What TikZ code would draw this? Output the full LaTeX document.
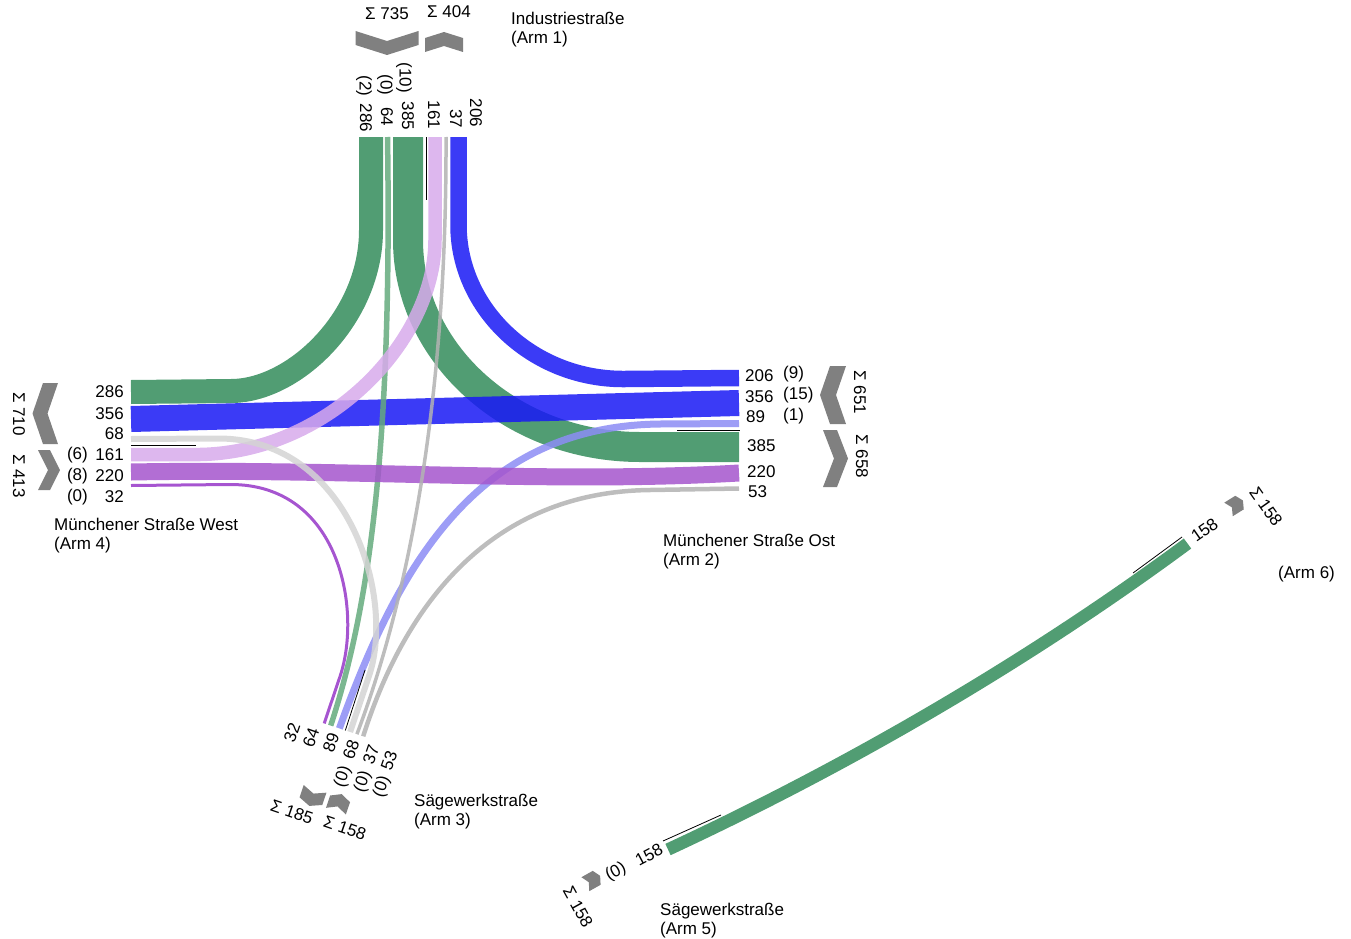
\documentclass[tikz,border=0pt]{standalone}
\usepackage{fontspec}
\setmainfont{Liberation Sans}
\definecolor{bgreen}{RGB}{50,140,90}
\definecolor{bgreenl}{RGB}{100,170,125}
\definecolor{bblue}{RGB}{25,25,245}
\definecolor{bbluel}{RGB}{140,140,245}
\definecolor{bpurple}{RGB}{165,85,205}
\definecolor{bpurpled}{RGB}{150,55,200}
\definecolor{bpurplel}{RGB}{215,170,235}
\definecolor{bgrayl}{RGB}{212,212,212}
\definecolor{bgray}{RGB}{178,178,178}
\definecolor{chevgray}{RGB}{128,128,128}
\newcommand{\chevshape}[6]{%
  \fill[chevgray,shift={(#1,#2)},rotate=#3]
   ({-(#4)/2},{-(#5)/2}) -- (0,{-(#5)/2+(#6)}) -- ({(#4)/2},{-(#5)/2}) --
   ({(#4)/2},{(#5)/2}) -- (0,{(#5)/2+(#6)}) -- ({-(#4)/2},{(#5)/2}) -- cycle;}
\begin{document}
\begin{tikzpicture}[x=1pt,y=-1pt,
  bnd/.style n args={2}{draw=#1, line width=#2, line cap=butt, opacity=0.85},
  lab/.style={font=\fontsize{17}{19}\selectfont, inner sep=0pt, text=black},
  armname/.style={font=\fontsize{17}{19}\selectfont, inner sep=0pt, align=left, anchor=north west},
  blk/.style={draw=black, line width=0.8pt}]
\useasboundingbox (0,0) rectangle (1351,939);
% ---------- band end points ----------
\coordinate (a1g286) at (371,137);
\coordinate (a1g64)  at (387.5,137);
\coordinate (a1g385) at (408,137);
\coordinate (a1p161) at (435,137);
\coordinate (a1s37)  at (446,137);
\coordinate (a1b206) at (458.5,137);
\coordinate (a4g286) at (131,392);
\coordinate (a4b356) at (131,419);
\coordinate (a4s68)  at (131,439);
\coordinate (a4p161) at (131,454.5);
\coordinate (a4p220) at (131,472);
\coordinate (a4p32)  at (131,485.5);
\coordinate (a2b206) at (739,378);
\coordinate (a2b356) at (739,403);
\coordinate (a2b89)  at (739,423.5);
\coordinate (a2g385) at (739,447);
\coordinate (a2p220) at (739,473);
\coordinate (a2s53)  at (739,488.5);
\coordinate (a3p32)  at (324.2,723.4);
\coordinate (a3g64)  at (330.7,725.6);
\coordinate (a3b89)  at (339.4,728.4);
\coordinate (a3s68)  at (350.1,732.0);
\coordinate (a3s37)  at (356.9,734.2);
\coordinate (a3s53)  at (363.2,736.3);
\coordinate (a5) at (668,849.5);
\coordinate (a6) at (1187.5,543.5);
% ---------- bands ----------
\draw[bnd={bgreen}{30}] (a1g385) -- (408,240) .. controls (408,354) and (512,447) .. (640,447) -- (a2g385);
\draw[bnd={bgreen}{24}] (a1g286) -- (371,230) .. controls (371,318) and (294,391) .. (231,391) -- (a4g286);
\draw[bnd={bblue}{26}] (a4b356) -- (a2b356);
\draw[bnd={bblue}{16.5}] (a1b206) -- (458.5,225) .. controls (458.5,310) and (534,380) .. (625,379) -- (a2b206);
\draw[bnd={bgreenl}{5.5}] (a1g64) .. controls (392,430) and (372,600) .. (a3g64);
\draw[bnd={bbluel}{7}] (a2b89) -- (660,424) .. controls (480,426) and (400,560) .. (a3b89);
\draw[bnd={bpurple}{17}] (a4p220) .. controls (350,468) and (550,484) .. (a2p220);
\draw[bnd={bpurplel}{13.5}] (a4p161) -- (200,454.5) .. controls (330,452) and (435,340) .. (435,240) -- (a1p161);
\draw[bnd={bpurpled}{3}] (a4p32) -- (230,484.5) .. controls (340,484) and (362,610) .. (340.2,675.9) -- (a3p32);
\draw[bnd={bgrayl}{6}] (a4s68) -- (220,438.5) .. controls (350,440) and (395,598) .. (369.3,675) -- (a3s68);
\draw[bnd={bgray}{3.5}] (a1s37) .. controls (447,430) and (400,620) .. (a3s37);
\draw[bnd={bgray}{4.5}] (a2s53) -- (650,490) .. controls (480,492) and (400,620) .. (a3s53);
\draw[bnd={bgreen}{12.5}] (a5) .. controls (850,765) and (1030,660) .. (a6);
% ---------- thin black markers ----------
\coordinate (k1a) at (426,137); \coordinate (k1b) at (426,200);
\coordinate (k4a) at (131,445); \coordinate (k4b) at (196,445);
\coordinate (k2a) at (677,430.5); \coordinate (k2b) at (740,430.5);
\coordinate (k3a) at (345.3,730.5); \coordinate (k3b) at (365,670);
\coordinate (k5a) at (663,841); \coordinate (k5b) at (721,815);
\coordinate (k6a) at (1133,573); \coordinate (k6b) at (1182,537);
\draw[blk] (k1a) -- (k1b);
\draw[blk] (k4a) -- (k4b);
\draw[blk] (k2a) -- (k2b);
\draw[blk] (k3a) -- (k3b);
\draw[blk] (k5a) -- (k5b);
\draw[blk] (k6a) -- (k6b);
% ---------- chevrons ----------
\chevshape{387}{38}{0}{63}{14}{10}
\chevshape{444}{45}{0}{38}{14}{-6}
\chevshape{838}{395}{-90}{58}{16}{10}
\chevshape{830}{458.5}{-90}{57}{14}{-11}
\chevshape{50.5}{413.5}{90}{61}{15}{-10.5}
\chevshape{44}{470}{90}{40}{12}{10}
\chevshape{313}{795}{161.4}{24}{13}{-5}
\chevshape{338}{805}{161.4}{21}{13}{5}
\chevshape{591}{881}{119.4}{16}{13}{4}
\chevshape{1234}{506}{-58}{16}{13}{-4}
% ---------- arm 1 labels ----------
\node[lab,rotate=-90] (t286) at (366,118) {286};
\node[lab,rotate=-90] (t64)  at (387,117) {64};
\node[lab,rotate=-90] (t385) at (408,116) {385};
\node[lab,rotate=-90] (t161) at (434,115) {161};
\node[lab,rotate=-90] (t37)  at (456,119) {37};
\node[lab,rotate=-90] (t206) at (476,113) {206};
\node[lab,rotate=-90] (th2)  at (364,86) {(2)};
\node[lab,rotate=-90] (th0)  at (385,85) {(0)};
\node[lab,rotate=-90] (th10) at (404,78) {(10)};
\node[lab] (s735) at (387,14) {Σ 735};
\node[lab] (s404) at (449,11.5) {Σ 404};
\node[armname] (n1) at (511,12) {Industriestraße\\(Arm 1)};
% ---------- arm 2 labels ----------
\node[lab,anchor=west] (r206) at (745,375.5) {206};
\node[lab,anchor=west] (r356) at (745,396.5) {356};
\node[lab,anchor=west] (r89)  at (746,416.5) {89};
\node[lab,anchor=west] (r385) at (747,446) {385};
\node[lab,anchor=west] (r220) at (747,471.5) {220};
\node[lab,anchor=west] (r53)  at (748,491.5) {53};
\node[lab,anchor=west] (rh9)  at (783,374) {(9)};
\node[lab,anchor=west] (rh15) at (783,395) {(15)};
\node[lab,anchor=west] (rh1)  at (783,416) {(1)};
\node[lab,rotate=-90] (s651) at (860,392.5) {Σ 651};
\node[lab,rotate=-90] (s658) at (862,456.5) {Σ 658};
\node[armname] (n2) at (663,534) {Münchener Straße Ost\\(Arm 2)};
% ---------- arm 4 labels ----------
\node[lab,anchor=east] (l286) at (124,391.5) {286};
\node[lab,anchor=east] (l356) at (124,413.5) {356};
\node[lab,anchor=east] (l68)  at (124,434) {68};
\node[lab,anchor=east] (l161) at (124,455) {161};
\node[lab,anchor=east] (l220) at (124,476) {220};
\node[lab,anchor=east] (l32)  at (124,496.5) {32};
\node[lab,anchor=east] (lh6)  at (88,455) {(6)};
\node[lab,anchor=east] (lh8)  at (88,476) {(8)};
\node[lab,anchor=east] (lh0)  at (88,497) {(0)};
\node[lab,rotate=-90] (s710) at (19,414) {Σ 710};
\node[lab,rotate=-90] (s413) at (19,476) {Σ 413};
\node[armname] (n4) at (54,518) {Münchener Straße West\\(Arm 4)};
% ---------- arm 3 labels ----------
\node[lab,rotate=71] (b32) at (292,733) {32};
\node[lab,rotate=71] (b64) at (311,738) {64};
\node[lab,rotate=71] (b89) at (331,743) {89};
\node[lab,rotate=71] (b68) at (351,750) {68};
\node[lab,rotate=71] (b37) at (371,755) {37};
\node[lab,rotate=71] (b53) at (389,761) {53};
\node[lab,rotate=71] (bh1) at (343,777) {(0)};
\node[lab,rotate=71] (bh2) at (363,782) {(0)};
\node[lab,rotate=71] (bh3) at (382,787) {(0)};
\node[lab,rotate=-19] (s185) at (292,812) {Σ 185};
\node[lab,rotate=-19] (s158a) at (345,828) {Σ 158};
\node[armname] (n3) at (414,794) {Sägewerkstraße\\(Arm 3)};
% ---------- arm 5 labels ----------
\node[lab,rotate=28] (f158) at (649,855) {158};
\node[lab,rotate=28] (fh0) at (616,872) {(0)};
\node[lab,rotate=-61] (s158b) at (578,907) {Σ 158};
\node[armname] (n5) at (660,903) {Sägewerkstraße\\(Arm 5)};
% ---------- arm 6 labels ----------
\node[lab,rotate=35] (x158) at (1204.5,530) {158};
\node[lab,rotate=-55] (s158c) at (1266,506.5) {Σ 158};
\node[lab,anchor=west] (n6) at (1278,574) {(Arm 6)};
\end{tikzpicture}
\end{document}
